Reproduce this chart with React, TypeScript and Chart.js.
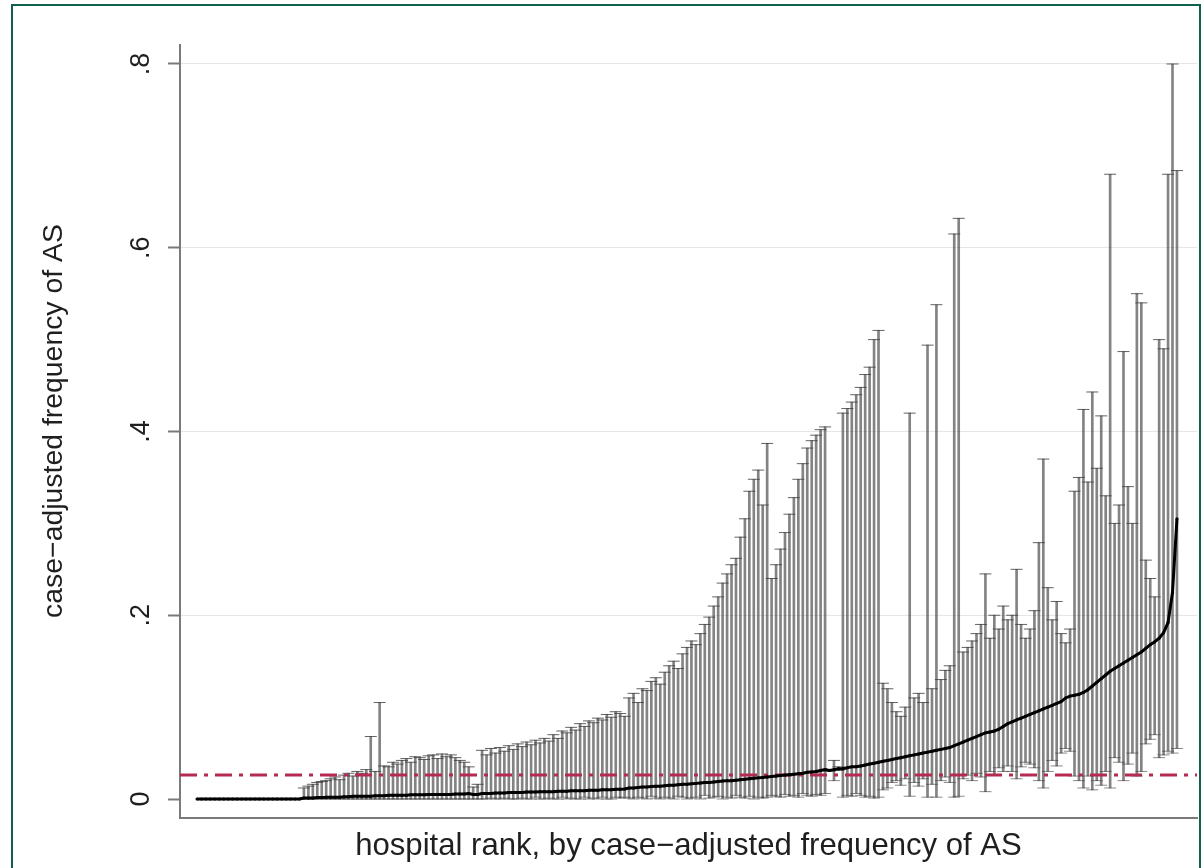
import React, { useEffect, useRef } from "react";
import { Chart, registerables } from "chart.js";

Chart.register(...registerables);

// Point estimate (case-adjusted frequency of AS) per hospital, ordered by rank
const est = [
  0, 0, 0, 0, 0, 0, 0, 0, 0, 0,
  0, 0, 0, 0, 0, 0, 0, 0, 0, 0,
  0, 0, 0, 0,
  0.001, 0.001, 0.001, 0.0015, 0.0015, 0.002,
  0.002, 0.002, 0.002, 0.0025, 0.0025, 0.003, 0.003, 0.003, 0.003, 0.003,
  0.0035, 0.0035, 0.0035, 0.004, 0.004, 0.004, 0.004, 0.004, 0.0045, 0.0045,
  0.0045, 0.0045, 0.005, 0.005, 0.005, 0.005, 0.005, 0.005, 0.0055, 0.0055, 0.0055, 0.006,
  0.005, 0.005,
  0.006, 0.006, 0.006, 0.0065, 0.0065, 0.0065, 0.007, 0.007, 0.007, 0.007,
  0.0075, 0.0075, 0.0075, 0.008, 0.008, 0.008, 0.008, 0.0085, 0.0085, 0.0085,
  0.009, 0.009, 0.009, 0.009, 0.0095, 0.0095, 0.0095, 0.01, 0.01, 0.01,
  0.0105, 0.0105, 0.011,
  0.012, 0.012, 0.0125, 0.013, 0.013, 0.0135, 0.014, 0.014, 0.0145, 0.015,
  0.015, 0.0155, 0.016, 0.016, 0.0165, 0.017, 0.0175, 0.018, 0.018, 0.0185,
  0.019, 0.0195, 0.02, 0.02, 0.0205, 0.021, 0.0215, 0.022, 0.0225, 0.023,
  0.0235, 0.024, 0.0245, 0.025, 0.0255, 0.026, 0.0265, 0.027, 0.0275, 0.028,
  0.029, 0.0295, 0.03, 0.031, 0.032,
  0.031, 0.032, 0.033,
  0.033, 0.034, 0.035, 0.035, 0.036, 0.037, 0.038, 0.039, 0.04, 0.041,
  0.042, 0.043, 0.044, 0.045, 0.046, 0.047, 0.048, 0.049, 0.05, 0.051,
  0.052, 0.053, 0.054, 0.055, 0.056, 0.058, 0.06, 0.062, 0.064, 0.066,
  0.068, 0.07, 0.072, 0.073, 0.074, 0.076, 0.079, 0.082,
  0.084, 0.086, 0.088, 0.09, 0.092, 0.094, 0.096, 0.098, 0.1, 0.102,
  0.104, 0.106, 0.11, 0.112, 0.113, 0.114, 0.116, 0.119, 0.123, 0.127,
  0.131, 0.135, 0.139, 0.142, 0.145, 0.148, 0.151, 0.154, 0.157, 0.16,
  0.164, 0.168, 0.171, 0.175, 0.181, 0.192, 0.225, 0.305,
];

// Lower confidence bound per hospital
const lo = [
  0, 0, 0, 0, 0, 0, 0, 0, 0, 0,
  0, 0, 0, 0, 0, 0, 0, 0, 0, 0,
  0, 0, 0, 0,
  0, 0, 0, 0, 0, 0, 0, 0, 0, 0,
  0, 0, 0, 0, 0, 0, 0, 0, 0, 0,
  0, 0, 0, 0, 0, 0, 0, 0, 0, 0,
  0, 0, 0, 0, 0, 0, 0, 0,
  0, 0,
  0, 0, 0.001, 0, 0, 0.001, 0, 0, 0, 0.001,
  0, 0, 0.002, 0, 0, 0.001, 0, 0, 0.002, 0,
  0.001, 0, 0, 0.002, 0, 0.001, 0, 0.002, 0, 0,
  0.002, 0.001, 0.002,
  0.001, 0, 0.002, 0.001, 0, 0.003, 0.001, 0, 0.002, 0.001,
  0, 0.003, 0.002, 0, 0.001, 0.002, 0, 0.004, 0.001, 0.002,
  0.003, 0, 0.002, 0.001, 0.004, 0.002, 0.001, 0.003, 0, 0.002,
  0.001, 0.002, 0.004, 0.003, 0.002, 0.005, 0.003, 0.004, 0.002, 0.006,
  0.004, 0.003, 0.005, 0.004, 0.006,
  0.03, 0.02, 0.031,
  0.002, 0.004, 0.003, 0.006, 0.004, 0.002, 0.003, 0.001, 0.002, 0.01,
  0.012, 0.018, 0.02, 0.015, 0.022, 0.003, 0.018, 0.014, 0.022, 0.002,
  0.016, 0.002, 0.02, 0.024, 0.018, 0.002, 0.003, 0.022, 0.026, 0.02,
  0.028, 0.024, 0.008, 0.03, 0.026, 0.034, 0.03, 0.036,
  0.03, 0.022, 0.035, 0.04, 0.038, 0.034, 0.02, 0.012, 0.03, 0.042,
  0.036, 0.05, 0.055, 0.052, 0.025, 0.02, 0.012, 0.025, 0.01, 0.02,
  0.015, 0.03, 0.012, 0.045, 0.04, 0.02, 0.038, 0.05, 0.025, 0.03,
  0.06, 0.065, 0.07, 0.045, 0.048, 0.052, 0.05, 0.055,
];

// Upper confidence bound per hospital
const hi = [
  0, 0, 0, 0, 0, 0, 0, 0, 0, 0,
  0, 0, 0, 0, 0, 0, 0, 0, 0, 0,
  0, 0, 0, 0,
  0.012, 0.014, 0.016, 0.018, 0.019, 0.02, 0.022, 0.024, 0.021, 0.026,
  0.028, 0.025, 0.03, 0.028, 0.032, 0.068, 0.03, 0.105, 0.036, 0.035,
  0.04, 0.038, 0.042, 0.044, 0.04, 0.046, 0.045, 0.043, 0.047, 0.048,
  0.044, 0.049, 0.046, 0.048, 0.045, 0.042, 0.04, 0.035,
  0.013, 0.016,
  0.053, 0.048, 0.055, 0.05, 0.056, 0.052, 0.058, 0.054, 0.06, 0.057,
  0.062, 0.059, 0.064, 0.061, 0.066, 0.063, 0.07, 0.066, 0.074, 0.072,
  0.078, 0.075, 0.082, 0.079, 0.085, 0.083, 0.088, 0.086, 0.092, 0.089,
  0.095, 0.093, 0.09,
  0.11, 0.115, 0.105, 0.12, 0.118, 0.128, 0.132, 0.125, 0.138, 0.145,
  0.15, 0.142, 0.158, 0.165, 0.172, 0.168, 0.18, 0.19, 0.198, 0.21,
  0.22, 0.235, 0.245, 0.255, 0.262, 0.285, 0.305, 0.335, 0.348, 0.358,
  0.32, 0.387, 0.24, 0.255, 0.272, 0.29, 0.31, 0.328, 0.348, 0.365,
  0.382, 0.39, 0.396, 0.402, 0.405,
  0.032, 0.042, 0.035,
  0.42, 0.425, 0.432, 0.44, 0.448, 0.462, 0.47, 0.5, 0.51, 0.126,
  0.12, 0.105, 0.095, 0.09, 0.1, 0.42, 0.11, 0.115, 0.105, 0.494,
  0.12, 0.538, 0.13, 0.14, 0.145, 0.615, 0.632, 0.16, 0.165, 0.172,
  0.18, 0.19, 0.245, 0.175, 0.2, 0.185, 0.21, 0.195,
  0.2, 0.25, 0.19, 0.175, 0.185, 0.205, 0.279, 0.37, 0.23, 0.195,
  0.215, 0.18, 0.17, 0.185, 0.335, 0.35, 0.424, 0.345, 0.443, 0.36,
  0.417, 0.33, 0.68, 0.3, 0.32, 0.487, 0.34, 0.3, 0.55, 0.54,
  0.26, 0.24, 0.22, 0.5, 0.49, 0.68, 0.8, 0.684,
];

const yTicks = [0, 0.2, 0.4, 0.6, 0.8];
const yTickLabels = ["0", ".2", ".4", ".6", ".8"];
const refLevel = 0.026;
const xTitle = "hospital rank, by case\u2212adjusted frequency of AS";
const yTitle = "case\u2212adjusted frequency of AS";

const FONT = '"Liberation Sans", Arial, Helvetica, sans-serif';

function fitFont(ctx: CanvasRenderingContext2D, text: string, target: number) {
  ctx.font = `24px ${FONT}`;
  const w = ctx.measureText(text).width;
  return (24 * target) / w;
}

const textPlugin = {
  id: "stataText",
  afterDraw(chart: any) {
    const { ctx, chartArea, scales } = chart;
    const y = scales.y;
    ctx.save();
    ctx.fillStyle = "#1f1f1f";
    ctx.font = `27px ${FONT}`;
    yTicks.forEach((v, i) => {
      const py = y.getPixelForValue(v);
      ctx.save();
      ctx.translate(149, py);
      ctx.rotate(-Math.PI / 2);
      ctx.textAlign = "center";
      ctx.textBaseline = "alphabetic";
      ctx.fillText(yTickLabels[i], 0, 0);
      ctx.restore();
    });
    const ys = fitFont(ctx, yTitle, 394);
    ctx.font = `${ys}px ${FONT}`;
    ctx.save();
    ctx.translate(62, 421);
    ctx.rotate(-Math.PI / 2);
    ctx.textAlign = "center";
    ctx.textBaseline = "alphabetic";
    ctx.fillText(yTitle, 0, 0);
    ctx.restore();
    const xs = fitFont(ctx, xTitle, 667);
    ctx.font = `${xs}px ${FONT}`;
    ctx.textAlign = "center";
    ctx.textBaseline = "alphabetic";
    ctx.fillText(xTitle, (chartArea.left + chartArea.right) / 2, 855);
    ctx.restore();
  },
};

export default function App() {
  const ref = useRef<HTMLCanvasElement>(null);

  useEffect(() => {
    const canvas = ref.current;
    if (!canvas) return;
    const n = Math.min(est.length, lo.length, hi.length);
    const rank = Array.from({ length: n }, (_, i) => i + 1);
    const xMin = -2.82;
    const xMax = n + 4.5;

    const barData = rank.map((x, i) => ({ x, y: [lo[i], hi[i]] }));
    const hiCaps = rank
      .map((x, i) => ({ x, y: hi[i] }))
      .filter((_, i) => hi[i] > lo[i]);
    const loCaps = rank
      .map((x, i) => ({ x, y: lo[i] }))
      .filter((_, i) => hi[i] > lo[i]);
    const estData = rank.map((x, i) => ({ x, y: est[i] }));

    const chart = new Chart(canvas, {
      type: "bar",
      data: {
        datasets: [
          {
            type: "bar",
            data: barData as any,
            backgroundColor: "rgba(55,55,55,0.62)",
            borderWidth: 0,
            barThickness: 2,
            order: 5,
          } as any,
          {
            type: "scatter",
            data: hiCaps,
            pointStyle: "line",
            pointRadius: 6,
            borderColor: "rgba(60,60,60,0.8)",
            borderWidth: 1,
            order: 4,
          } as any,
          {
            type: "scatter",
            data: loCaps,
            pointStyle: "line",
            pointRadius: 6,
            borderColor: "rgba(60,60,60,0.6)",
            borderWidth: 1,
            order: 4,
          } as any,
          {
            type: "line",
            data: [
              { x: xMin, y: refLevel },
              { x: xMax, y: refLevel },
            ],
            borderColor: "#b42a50",
            borderWidth: 3,
            borderDash: [17, 7, 4, 7],
            pointRadius: 0,
            order: 2,
          } as any,
          {
            type: "line",
            data: estData,
            borderColor: "#000",
            backgroundColor: "#000",
            borderWidth: 3,
            pointRadius: 1.5,
            pointBorderWidth: 0,
            order: 1,
          } as any,
        ],
      },
      options: {
        responsive: false,
        animation: false,
        events: [],
        layout: { padding: { left: 0, top: 45, right: 7, bottom: 0 } },
        plugins: {
          legend: { display: false },
          tooltip: { enabled: false },
        },
        scales: {
          x: {
            type: "linear",
            min: xMin,
            max: xMax,
            offset: false,
            ticks: { display: false },
            grid: { display: false, drawTicks: false },
            border: { display: true, color: "#7a7a7a", width: 2 },
            afterFit: (s: any) => {
              s.height = 50;
            },
          },
          y: {
            type: "linear",
            min: -0.02068,
            max: 0.82068,
            ticks: { display: false },
            afterBuildTicks: (s: any) => {
              s.ticks = yTicks.map((v) => ({ value: v }));
            },
            grid: {
              color: (c: any) =>
                c.tick && c.tick.value === 0 ? "rgba(0,0,0,0)" : "#e6e6e6",
              lineWidth: 1,
              drawTicks: true,
              tickLength: 12,
              tickColor: "#7a7a7a",
              tickWidth: 2,
            },
            border: { display: true, color: "#7a7a7a", width: 2 },
            afterFit: (s: any) => {
              s.width = 180;
            },
          },
        },
      },
      plugins: [textPlugin],
    });

    return () => chart.destroy();
  }, []);

  return (
    <div
      style={{
        position: "absolute",
        left: 0,
        top: 0,
        width: 1204,
        height: 868,
        background: "#fff",
        overflow: "hidden",
      }}
    >
      <canvas
        ref={ref}
        width={1204}
        height={868}
        style={{ position: "absolute", left: 0, top: 0 }}
      />
      <div
        style={{
          position: "absolute",
          left: 11,
          top: 4,
          width: 1190,
          height: 880,
          border: "2px solid #10604f",
          boxSizing: "border-box",
          pointerEvents: "none",
        }}
      />
    </div>
  );
}
